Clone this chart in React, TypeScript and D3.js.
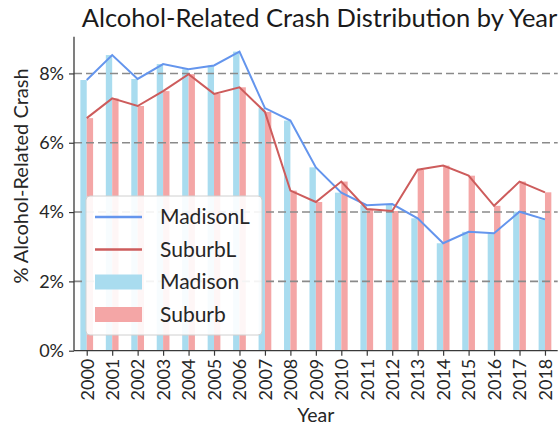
import { useEffect, useRef } from 'react'
import * as d3 from 'd3'

const YEARS = ['2000', '2001', '2002', '2003', '2004', '2005', '2006', '2007', '2008', '2009',
  '2010', '2011', '2012', '2013', '2014', '2015', '2016', '2017', '2018']
const MADISON = [7.81, 8.53, 7.84, 8.27, 8.12, 8.23, 8.63, 7.0, 6.64, 5.29,
  4.56, 4.2, 4.23, 3.82, 3.1, 3.43, 3.39, 4.01, 3.79]
const SUBURB = [6.71, 7.28, 7.06, 7.49, 7.98, 7.41, 7.6, 6.89, 4.62, 4.29,
  4.88, 4.09, 4.03, 5.22, 5.34, 5.05, 4.18, 4.88, 4.57]
const Y_TICKS = [0, 2, 4, 6, 8]

const FONT = 'Lato, "Open Sans", sans-serif'
const BLUE_BAR = '#a9dcef'
const RED_BAR = '#f4a6a6'
const BLUE_LINE = '#6495ed'
const RED_LINE = '#cd5c5c'

export default function App() {
  const svgRef = useRef<SVGSVGElement>(null)

  useEffect(() => {
    if (!svgRef.current) return
    const svg = d3.select(svgRef.current)
    svg.selectAll('*').remove()

    const left = 74, right = 557.7, top = 36.7, bottom = 350.7
    const x = d3.scaleLinear().domain([-0.5, YEARS.length - 0.5]).range([left, right])
    const y = d3.scaleLinear().domain([0, 9.06]).range([bottom, top])
    const bw = x(0.25) - x(0)

    const g = svg.append('g')

    // Bars
    MADISON.forEach((v, i) => {
      g.append('rect')
        .attr('x', x(i - 0.25)).attr('y', y(v))
        .attr('width', bw).attr('height', y(0) - y(v))
        .attr('fill', BLUE_BAR)
    })
    SUBURB.forEach((v, i) => {
      g.append('rect')
        .attr('x', x(i)).attr('y', y(v))
        .attr('width', bw).attr('height', y(0) - y(v))
        .attr('fill', RED_BAR)
    })

    // Grid lines
    Y_TICKS.filter(t => t > 0).forEach(t => {
      g.append('line')
        .attr('x1', left).attr('x2', right)
        .attr('y1', y(t)).attr('y2', y(t))
        .attr('stroke', '#8a8a8a').attr('stroke-width', 1.6)
        .attr('stroke-dasharray', '8,4')
    })

    // Lines
    const line = d3.line<number>().x((_, i) => x(i)).y(d => y(d))
    g.append('path').datum(MADISON).attr('d', line)
      .attr('fill', 'none').attr('stroke', BLUE_LINE).attr('stroke-width', 2)
    g.append('path').datum(SUBURB).attr('d', line)
      .attr('fill', 'none').attr('stroke', RED_LINE).attr('stroke-width', 2)

    // Axes
    const yAxis = g.append('g').attr('transform', `translate(${left},0)`)
      .call(d3.axisLeft(y).tickValues(Y_TICKS).tickSize(5).tickPadding(5).tickFormat(d => `${d}%`))
    yAxis.select('.domain').attr('d', `M-0,${top}V${bottom}`)

    const xAxis = g.append('g').attr('transform', `translate(0,${bottom})`)
      .call(d3.axisBottom(x).tickValues(d3.range(YEARS.length)).tickSize(5).tickFormat(i => YEARS[+i]))
    xAxis.select('.domain').attr('d', `M${left},0H${right}`)
    xAxis.selectAll('text')
      .attr('transform', 'rotate(-90)')
      .attr('text-anchor', 'end')
      .attr('x', -8).attr('y', 0).attr('dy', '0.35em')

    svg.selectAll('.domain').attr('stroke', '#3a3a3a').attr('stroke-width', 1.3)
    svg.selectAll('.tick line').attr('stroke', '#3a3a3a').attr('stroke-width', 1.2)
    svg.selectAll('.tick text').attr('fill', '#262626').attr('font-size', 18).attr('font-family', FONT)

    // Title and axis labels
    svg.append('text')
      .attr('x', 319.5).attr('y', 27)
      .attr('text-anchor', 'middle').attr('font-size', 25.5).attr('font-family', FONT)
      .attr('fill', '#1a1a1a')
      .text('Alcohol-Related Crash Distribution by Year')

    svg.append('text')
      .attr('transform', `translate(28,176) rotate(-90)`)
      .attr('text-anchor', 'middle').attr('font-size', 20).attr('font-family', FONT)
      .attr('fill', '#262626')
      .text('% Alcohol-Related Crash')

    svg.append('text')
      .attr('x', (left + right) / 2).attr('y', 422)
      .attr('text-anchor', 'middle').attr('font-size', 19.5).attr('font-family', FONT)
      .attr('fill', '#262626')
      .text('Year')

    // Legend
    const lg = svg.append('g').attr('transform', 'translate(86,196)')
    lg.append('rect')
      .attr('width', 176).attr('height', 139).attr('rx', 4)
      .attr('fill', 'white').attr('fill-opacity', 0.9)
      .attr('stroke', '#d0d0d0').attr('stroke-width', 1)
    const items = [
      { label: 'MadisonL', kind: 'line', color: BLUE_LINE },
      { label: 'SuburbL', kind: 'line', color: RED_LINE },
      { label: 'Madison', kind: 'bar', color: BLUE_BAR },
      { label: 'Suburb', kind: 'bar', color: RED_BAR },
    ]
    items.forEach((it, i) => {
      const cy = 21 + i * 32.5
      if (it.kind === 'line') {
        lg.append('line').attr('x1', 9).attr('x2', 56).attr('y1', cy).attr('y2', cy)
          .attr('stroke', it.color).attr('stroke-width', 2.4)
      } else {
        lg.append('rect').attr('x', 9).attr('y', cy - 7.5).attr('width', 47).attr('height', 15)
          .attr('fill', it.color)
      }
      lg.append('text')
        .attr('x', 74).attr('y', cy).attr('dy', '0.35em')
        .attr('font-size', 21).attr('font-family', FONT).attr('fill', '#262626')
        .text(it.label)
    })
  }, [])

  return (
    <svg ref={svgRef} width={560} height={429}
      style={{ position: 'absolute', left: 0, top: 0, background: 'white' }} />
  )
}
